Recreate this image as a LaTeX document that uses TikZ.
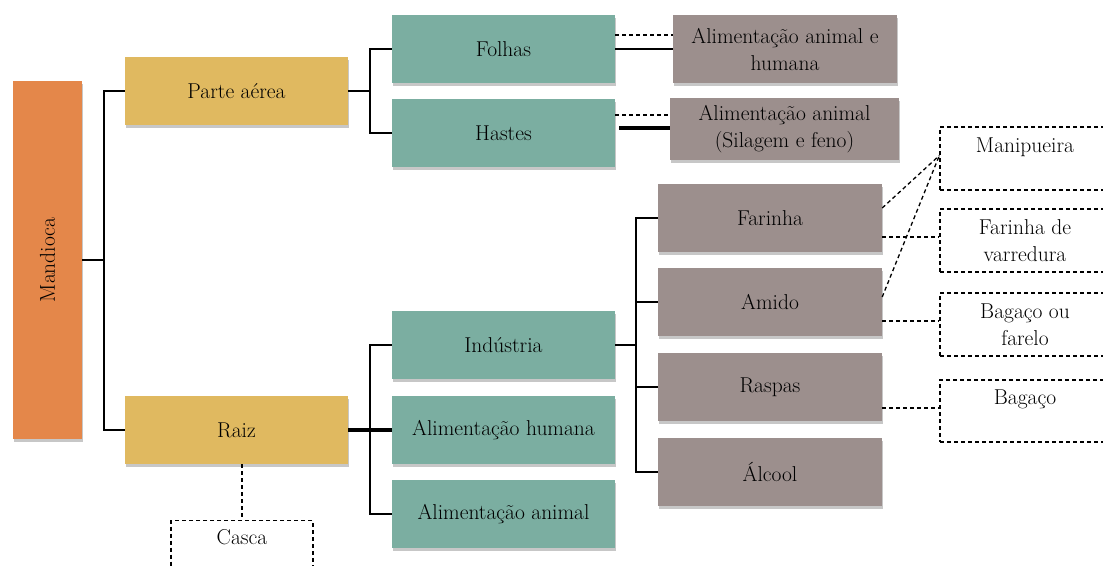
\documentclass[tikz,border=0pt]{standalone}
\usepackage{fontspec}
\usetikzlibrary{shadows,calc}
\definecolor{cOrange}{RGB}{228,135,74}
\definecolor{cYellow}{RGB}{224,185,96}
\definecolor{cTeal}{RGB}{123,174,161}
\definecolor{cGray}{RGB}{156,143,141}
\tikzset{
  txt/.style={font=\rmfamily\fontsize{21.5}{27}\selectfont},
  box/.style={txt, inner sep=0pt, align=center,
    drop shadow={shadow xshift=1pt, shadow yshift=-2.5pt, opacity=0.22, fill=black}},
  orangebox/.style={box, fill=cOrange},
  yellowbox/.style={box, fill=cYellow, minimum width=223pt, minimum height=68pt},
  tealbox/.style={box, fill=cTeal, minimum width=223pt, minimum height=68pt},
  graybox/.style={box, fill=cGray, minimum width=224pt, minimum height=68pt},
  dashbox/.style={txt, draw, line width=1.3pt, dash pattern=on 4pt off 3pt, inner sep=0pt, align=center},
  link/.style={line width=2.4pt},
  thicklink/.style={line width=4.5pt},
  dlink/.style={line width=1.3pt, dash pattern=on 4pt off 3pt},
}
\begin{document}
\begin{tikzpicture}[x=1pt,y=-1pt]
\clip (0,0) rectangle (1103,565);
\fill[white] (0,0) rectangle (1103,565);

% nodes
\node[orangebox, minimum width=69pt, minimum height=358pt] (mand) at (47.5,260) {};
\node[txt, rotate=90] (mandt) at (mand.center) {Mandioca};
\node[yellowbox] (parte) at (236.5,91) {Parte aérea};
\node[yellowbox] (raiz) at (236.5,430) {Raiz};
\node[tealbox] (folhas) at (503.5,49) {Folhas};
\node[tealbox] (hastes) at (503.5,133) {Hastes};
\node[tealbox] (ind) at (503.5,345) {Indústria};
\node[tealbox] (ahum) at (503.5,430) {Alimentação humana};
\node[tealbox] (aani) at (503.5,514) {Alimentação animal};
\node[graybox] (b1) at (785,49) {Alimentação animal e\\humana};
\node[graybox, minimum width=229pt, minimum height=62pt] (b2) at (784.5,129) {Alimentação animal\\(Silagem e feno)};
\node[graybox] (far) at (770,218) {Farinha};
\node[graybox] (ami) at (770,302) {Amido};
\node[graybox] (ras) at (770,387) {Raspas};
\node[graybox] (alc) at (770,472) {Álcool};

\node[dashbox, minimum width=170pt, minimum height=63pt] (mani) at (1025,158.5) {Manipueira\\\mbox{}};
\node[dashbox, minimum width=170pt, minimum height=63pt] (fvar) at (1025,240.5) {Farinha de\\varredura};
\node[dashbox, minimum width=170pt, minimum height=63pt] (bfar) at (1025,324.5) {Bagaço ou\\farelo};
\node[dashbox, minimum width=170pt, minimum height=62pt] (bag) at (1025,411) {Bagaço\\\mbox{}};
\node[dashbox, minimum width=142pt, minimum height=60pt, anchor=north] (casca) at (242,520) {Casca\\\mbox{}};

% tree connectors
\draw[link] (mand.east) -- ++(22,0) coordinate (j1);
\draw[link] (parte.west) -| (j1) |- (raiz.west);
\draw[link] (parte.east) -- ++(22,0) coordinate (j2);
\draw[link] (folhas.west) -| (j2) |- (hastes.west);
\draw[thicklink] (raiz.east) -- (ahum.west);
\draw[link] (ind.west) -| ($(raiz.east)+(22,0)$) |- (aani.west);
\draw[link] (ind.east) -- ++(21,0) coordinate (j3);
\draw[link] (far.west) -| (j3) |- (alc.west);
\draw[link] (ami.west) -- (ami.west -| j3);
\draw[link] (ras.west) -- (ras.west -| j3);

% product links
\draw[dlink] ($(folhas.east)+(0,-14)$) -- ($(folhas.east -| b1.west)+(0,-14)$);
\draw[link] (folhas.east) -- (folhas.east -| b1.west);
\draw[dlink] ($(hastes.east)+(0,-18)$) -- ($(hastes.east -| b2.west)+(0,-18)$);
\draw[thicklink] ($(hastes.east)+(4,-5)$) -- ($(hastes.east -| b2.west)+(0,-5)$);

% residues
\draw[dlink] (raiz.south -| casca.north) -- (casca.north);
\draw[dlink] ($(far.east)+(0,-10)$) -- ($(mani.west)+(0,-3)$);
\draw[dlink] ($(ami.east)+(0,-5)$) -- ($(mani.west)+(0,-3)$);
\draw[dlink] ($(far.east)+(0,19)$) coordinate (f1) -- (f1 -| fvar.west);
\draw[dlink] ($(ami.east)+(0,19)$) coordinate (a1) -- (a1 -| bfar.west);
\draw[dlink] ($(ras.east)+(0,21)$) coordinate (r1) -- (r1 -| bag.west);
\end{tikzpicture}
\end{document}
